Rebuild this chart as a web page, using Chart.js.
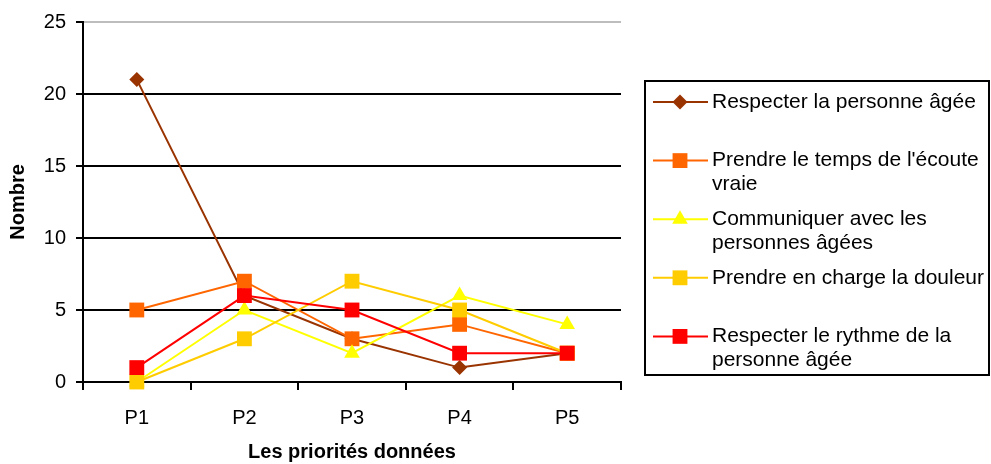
<!DOCTYPE html>
<html>
<head>
<meta charset="utf-8">
<script src="https://cdn.jsdelivr.net/npm/chart.js@4.4.1/dist/chart.umd.min.js"></script>
<style>
  html, body { margin: 0; padding: 0; background: #fff; }
  #wrap { position: relative; width: 991px; height: 464px; }
</style>
</head>
<body>
<div id="wrap"><canvas id="c"></canvas></div>
<script>
const categories = ['P1', 'P2', 'P3', 'P4', 'P5'];
const seriesNames = [
  'Respecter la personne âgée',
  "Prendre le temps de l'écoute vraie",
  'Communiquer avec les personnes âgées',
  'Prendre en charge la douleur',
  'Respecter le rythme de la personne âgée'
];
const respecterPersonne = [21, 6, 3, 1, 2];
const ecouteVraie = [5, 7, 3, 4, 2];
const communiquer = [0, 5, 2, 6, 4];
const douleur = [0, 3, 7, 5, 2];
const rythme = [1, 6, 5, 2, 2];
const yMin = 0, yMax = 25, yStep = 5;
const xTitle = 'Les priorités données';
const yTitle = 'Nombre';

const FONT = "Arial, 'Liberation Sans', sans-serif";
const colors = ['#993300', '#FF6600', '#FFFF00', '#FFCC00', '#FF0000'];
const styles = [
  { pointStyle: 'rectRot', radius: 7.5 },
  { pointStyle: 'rect', radius: 10.5 },
  { pointStyle: 'triangle', radius: 9 },
  { pointStyle: 'rect', radius: 10.5 },
  { pointStyle: 'rect', radius: 10.5 }
];
const values = [respecterPersonne, ecouteVraie, communiquer, douleur, rythme];

const datasets = values.map((v, i) => ({
  label: seriesNames[i],
  data: v,
  borderColor: colors[i],
  backgroundColor: colors[i],
  borderWidth: 2,
  pointStyle: styles[i].pointStyle,
  pointRadius: styles[i].radius,
  pointHoverRadius: styles[i].radius,
  pointBorderWidth: 0,
  pointBackgroundColor: colors[i],
  tension: 0,
  clip: false,
  order: values.length - i
}));

const legendPlugin = {
  id: 'excelLegend',
  afterDraw(chart) {
    const ctx = chart.ctx;
    const box = { x: 645, y: 81, w: 344, h: 294 };
    ctx.save();
    ctx.lineWidth = 2;
    ctx.strokeStyle = '#000';
    ctx.strokeRect(box.x, box.y, box.w, box.h);
    ctx.font = '21px ' + FONT;
    ctx.textBaseline = 'middle';
    ctx.textAlign = 'left';
    const rowStart = 102, rowStep = 58.6, lineStep = 24, textX = 712, maxW = 276;
    chart.data.datasets.forEach((ds, i) => {
      const y = rowStart + i * rowStep;
      ctx.strokeStyle = ds.borderColor;
      ctx.lineWidth = 2;
      ctx.beginPath();
      ctx.moveTo(653, y);
      ctx.lineTo(708, y);
      ctx.stroke();
      ctx.fillStyle = ds.borderColor;
      Chart.helpers.drawPoint(ctx, { pointStyle: ds.pointStyle, radius: ds.pointRadius, borderWidth: 0, rotation: 0 }, 680, y);
      const words = ds.label.split(' ');
      const lines = [];
      let cur = '';
      words.forEach(w => {
        const test = cur ? cur + ' ' + w : w;
        if (ctx.measureText(test).width > maxW && cur) { lines.push(cur); cur = w; }
        else cur = test;
      });
      if (cur) lines.push(cur);
      ctx.fillStyle = '#000';
      lines.forEach((l, k) => ctx.fillText(l, textX, y + k * lineStep));
    });
    ctx.restore();
  }
};

new Chart(document.getElementById('c'), {
  type: 'line',
  data: { labels: categories, datasets },
  options: {
    responsive: true,
    maintainAspectRatio: false,
    animation: false,
    devicePixelRatio: 1,
    layout: { padding: { top: 19, right: 370, left: 0, bottom: 0 } },
    plugins: { legend: { display: false }, tooltip: { enabled: false } },
    scales: {
      x: {
        offset: true,
        grid: { offset: true, drawOnChartArea: false, drawTicks: true, tickLength: 8, tickColor: '#000', lineWidth: 2, color: '#000' },
        border: { color: '#000', width: 2 },
        ticks: { color: '#000', font: { family: FONT, size: 20 }, padding: 16, maxRotation: 0 },
        title: { display: true, text: xTitle, color: '#000', font: { family: FONT, size: 20, weight: 'bold' }, padding: 0 },
        afterFit: s => { s.height = 82; }
      },
      y: {
        min: yMin, max: yMax,
        ticks: { stepSize: yStep, color: '#000', font: { family: FONT, size: 20 }, padding: 10 },
        grid: {
          color: c => (c.tick && c.tick.value === yMax) ? '#bdbdbd' : '#000',
          lineWidth: 2, tickLength: 7, tickColor: '#000'
        },
        border: { color: '#000', width: 2 },
        title: { display: true, text: yTitle, color: '#000', font: { family: FONT, size: 20, weight: 'bold' }, padding: 6 },
        afterFit: s => { s.width = 83; }
      }
    }
  },
  plugins: [legendPlugin]
});
</script>
</body>
</html>
